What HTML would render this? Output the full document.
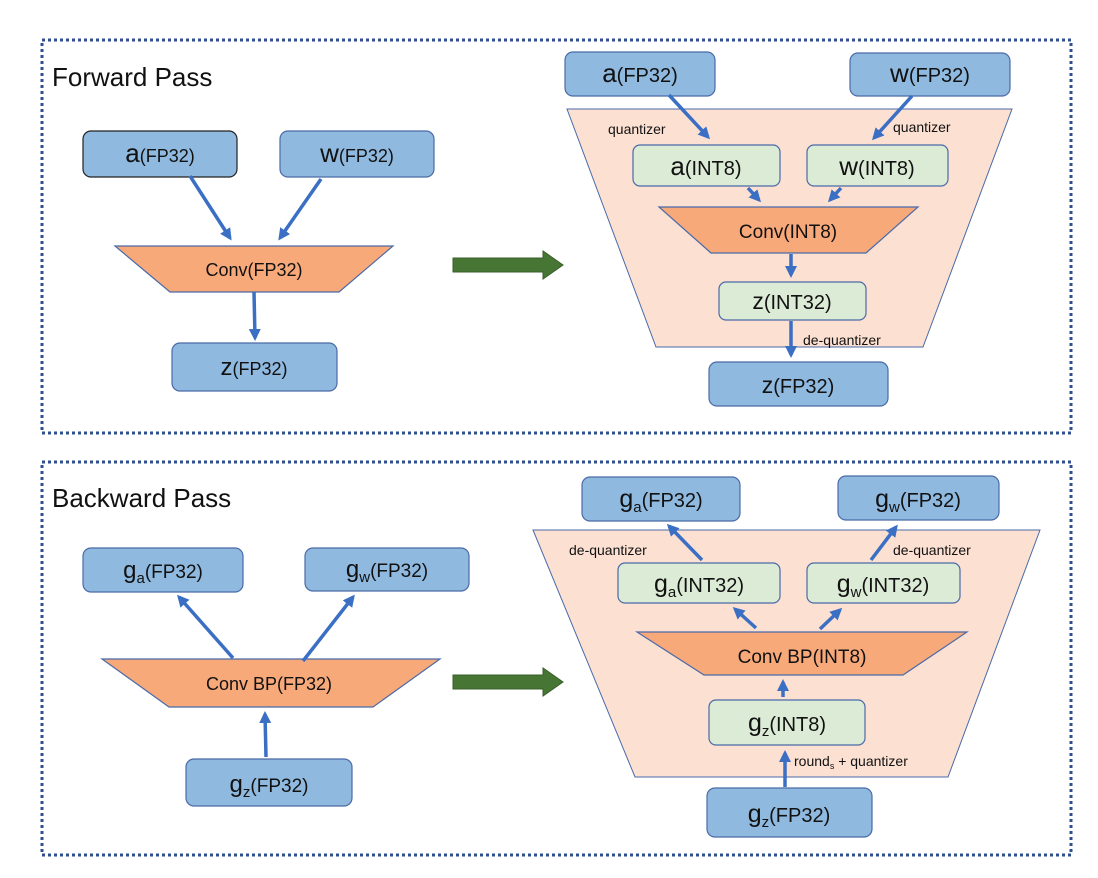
<!DOCTYPE html>
<html><head><meta charset="utf-8"><style>
html,body{margin:0;padding:0;background:#fff;}
svg{display:block;}
text{font-family:"Liberation Sans",sans-serif;fill:#111;}
</style></head><body>
<svg width="1098" height="878" viewBox="0 0 1098 878" xmlns="http://www.w3.org/2000/svg">
<defs>
<marker id="ah" markerWidth="14" markerHeight="14" refX="9" refY="6" orient="auto" markerUnits="userSpaceOnUse">
<path d="M0,0 L12,6 L0,12 z" fill="#3a6fc4"/>
</marker>
</defs>
<g fill="none" stroke="#2f4f8f" stroke-width="3" stroke-dasharray="3,3">
<rect x="42" y="40" width="1029" height="393"/>
<rect x="42" y="462" width="1029" height="393"/>
</g>
<text x="52" y="86" font-size="26">Forward Pass</text>
<text x="52" y="507" font-size="26">Backward Pass</text>

<path d="M453,258 H543 V251 L563,265 L543,279 V272 H453 z" fill="#467534" stroke="#3a5f2a" stroke-width="1"/>
<path d="M453,675 H543 V668 L563,682 L543,696 V689 H453 z" fill="#467534" stroke="#3a5f2a" stroke-width="1"/>

<polygon points="567,109 1012,109 923,347 656,347" fill="#fce0d2" stroke="#4a6aa8" stroke-width="1"/>
<polygon points="533,530 1040,530 948,777 635,777" fill="#fce0d2" stroke="#4a6aa8" stroke-width="1"/>

<g stroke="#4a6aa8" stroke-width="1.2">
<rect x="83" y="131" width="154" height="46" rx="8" fill="#8fb9df" stroke="#222"/>
<rect x="280" y="131" width="154" height="46" rx="8" fill="#8fb9df"/>
<polygon points="115,246 393,246 339,292 170,292" fill="#f8a97a"/>
<rect x="172" y="343" width="165" height="48" rx="8" fill="#8fb9df"/>
<rect x="565" y="52" width="150" height="44" rx="8" fill="#8fb9df"/>
<rect x="850" y="53" width="160" height="43" rx="8" fill="#8fb9df"/>
<rect x="633" y="145" width="147" height="41" rx="7" fill="#dcebd5"/>
<rect x="807" y="145" width="141" height="41" rx="7" fill="#dcebd5"/>
<polygon points="659,207 918,207 866,253 711,253" fill="#f8a97a"/>
<rect x="719" y="282" width="147" height="38" rx="7" fill="#dcebd5"/>
<rect x="709" y="362" width="179" height="44" rx="8" fill="#8fb9df"/>
<rect x="83" y="548" width="160" height="44" rx="8" fill="#8fb9df"/>
<rect x="305" y="548" width="164" height="43" rx="8" fill="#8fb9df"/>
<polygon points="102,659 440,659 373,707 169,707" fill="#f8a97a"/>
<rect x="186" y="759" width="166" height="47" rx="8" fill="#8fb9df"/>
<rect x="582" y="477" width="158" height="44" rx="8" fill="#8fb9df"/>
<rect x="838" y="476" width="161" height="44" rx="8" fill="#8fb9df"/>
<rect x="618" y="563" width="162" height="40" rx="7" fill="#dcebd5"/>
<rect x="807" y="563" width="153" height="40" rx="7" fill="#dcebd5"/>
<polygon points="637,632 967,632 903,675 704,675" fill="#f8a97a"/>
<rect x="709" y="700" width="156" height="45" rx="7" fill="#dcebd5"/>
<rect x="707" y="788" width="165" height="49" rx="8" fill="#8fb9df"/>
</g>

<g stroke="#3a6fc4" stroke-width="3.5" marker-end="url(#ah)" fill="none">
<line x1="190" y1="176" x2="230" y2="238"/>
<line x1="321" y1="179" x2="280" y2="238"/>
<line x1="254" y1="292" x2="255" y2="338"/>
<line x1="669" y1="95" x2="708" y2="137"/>
<line x1="912" y1="96" x2="874" y2="138"/>
<line x1="748" y1="188" x2="759" y2="200"/>
<line x1="841" y1="188" x2="830" y2="200"/>
<line x1="791" y1="254" x2="791" y2="275"/>
<line x1="791" y1="321" x2="791" y2="355"/>
<line x1="233" y1="658" x2="179" y2="597"/>
<line x1="303" y1="661" x2="353" y2="597"/>
<line x1="266" y1="757" x2="265" y2="714"/>
<line x1="702" y1="560" x2="669" y2="526"/>
<line x1="871" y1="560" x2="896" y2="527"/>
<line x1="756" y1="628" x2="735" y2="609"/>
<line x1="820" y1="629" x2="840" y2="610"/>
<line x1="783" y1="697" x2="783" y2="682"/>
<line x1="785" y1="787" x2="785" y2="753"/>
</g>

<g font-size="18" text-anchor="middle">
<text x="160" y="162"><tspan font-size="26">a</tspan>(FP32)</text>
<text x="357" y="162"><tspan font-size="26">w</tspan>(FP32)</text>
<text x="254" y="276">Conv(FP32)</text>
<text x="254" y="375"><tspan font-size="24">z</tspan>(FP32)</text>
<text x="640" y="82" font-size="20"><tspan font-size="26">a</tspan>(FP32)</text>
<text x="930" y="82" font-size="20"><tspan font-size="26">w</tspan>(FP32)</text>
<text x="706" y="175" font-size="20"><tspan font-size="26">a</tspan>(INT8)</text>
<text x="877" y="175" font-size="20"><tspan font-size="26">w</tspan>(INT8)</text>
<text x="788" y="238" font-size="19">Conv(INT8)</text>
<text x="792" y="309" font-size="20"><tspan font-size="23">z</tspan>(INT32)</text>
<text x="798" y="393" font-size="20"><tspan font-size="23">z</tspan>(FP32)</text>
<text x="163" y="578" font-size="19"><tspan font-size="24">g</tspan><tspan font-size="15" dy="5">a</tspan><tspan dy="-5">(FP32)</tspan></text>
<text x="387" y="577" font-size="19"><tspan font-size="24">g</tspan><tspan font-size="15" dy="5">w</tspan><tspan dy="-5">(FP32)</tspan></text>
<text x="269" y="690">Conv BP(FP32)</text>
<text x="269" y="792" font-size="19"><tspan font-size="24">g</tspan><tspan font-size="15" dy="5">z</tspan><tspan dy="-5">(FP32)</tspan></text>
<text x="661" y="507" font-size="20"><tspan font-size="25">g</tspan><tspan font-size="15" dy="5">a</tspan><tspan dy="-5">(FP32)</tspan></text>
<text x="918" y="507" font-size="20"><tspan font-size="25">g</tspan><tspan font-size="15" dy="5">w</tspan><tspan dy="-5">(FP32)</tspan></text>
<text x="699" y="592" font-size="20"><tspan font-size="25">g</tspan><tspan font-size="15" dy="5">a</tspan><tspan dy="-5">(INT32)</tspan></text>
<text x="883" y="592" font-size="20"><tspan font-size="25">g</tspan><tspan font-size="15" dy="5">w</tspan><tspan dy="-5">(INT32)</tspan></text>
<text x="802" y="663" font-size="19">Conv BP(INT8)</text>
<text x="787" y="731" font-size="20"><tspan font-size="25">g</tspan><tspan font-size="15" dy="5">z</tspan><tspan dy="-5">(INT8)</tspan></text>
<text x="789" y="822" font-size="20"><tspan font-size="25">g</tspan><tspan font-size="15" dy="5">z</tspan><tspan dy="-5">(FP32)</tspan></text>
</g>
<g font-size="14">
<text x="608" y="134">quantizer</text>
<text x="893" y="132">quantizer</text>
<text x="803" y="345">de-quantizer</text>
<text x="569" y="555">de-quantizer</text>
<text x="893" y="555">de-quantizer</text>
<text x="794" y="766">round<tspan font-size="9" dy="3">s</tspan><tspan dy="-3"> + quantizer</tspan></text>
</g>
</svg>
</body></html>
